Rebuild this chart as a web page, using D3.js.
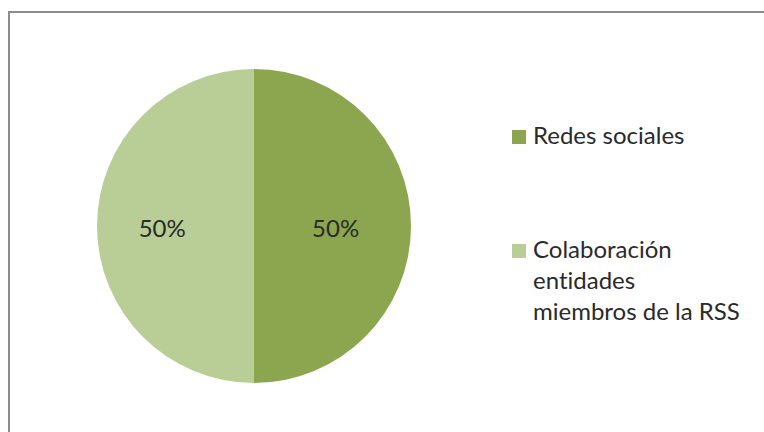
<!DOCTYPE html>
<html>
<head>
<meta charset="utf-8">
<script src="https://cdn.jsdelivr.net/npm/d3@7"></script>
<style>
  html, body { margin: 0; padding: 0; background: #fff; }
  svg { display: block; }
  text { font-family: Lato, "Open Sans", sans-serif; fill: #2a2a2a; font-variant-ligatures: none; }
</style>
</head>
<body>
<svg id="chart" width="764" height="432"></svg>
<script>
const categories = ["Redes sociales", "Colaboración entidades miembros de la RSS"];
const legendLines = [["Redes sociales"], ["Colaboración", "entidades", "miembros de la RSS"]];
const values = [50, 50];
const percentLabels = ["50%", "50%"];
const colors = ["#8ba64e", "#b9cd96"];

const svg = d3.select("#chart");
const W = 764, H = 432;

// frame
svg.append("rect")
  .attr("x", 9).attr("y", 12)
  .attr("width", W + 20).attr("height", H + 20)
  .attr("fill", "#fff")
  .attr("stroke", "#8c8c8c")
  .attr("stroke-width", 2);

const cx = 254, cy = 226, r = 157;
const pie = d3.pie().sort(null).value(d => d.value);
const arcs = pie(categories.map((c, i) => ({ name: c, value: values[i], label: percentLabels[i], color: colors[i] })));
const arc = d3.arc().innerRadius(0).outerRadius(r);
const labelRadius = [r * 0.52, r * 0.585];

const g = svg.append("g").attr("transform", `translate(${cx},${cy})`);
g.selectAll("path.slice").data(arcs).enter().append("path")
  .attr("class", "slice")
  .attr("d", arc)
  .attr("fill", d => d.data.color);

g.selectAll("text.pct").data(arcs).enter().append("text")
  .attr("class", "pct")
  .attr("x", (d, i) => d3.arc().innerRadius(labelRadius[i]).outerRadius(labelRadius[i]).centroid(d)[0])
  .attr("y", 11)
  .attr("text-anchor", "middle")
  .attr("font-size", 24)
  .text(d => d.data.label);

// legend
const legendY = [144, 258];
const lg = svg.append("g");
legendLines.forEach((lines, i) => {
  lg.append("rect")
    .attr("x", 512).attr("y", legendY[i] - 14)
    .attr("width", 14).attr("height", 14)
    .attr("fill", colors[i]);
  const t = lg.append("text")
    .attr("x", 533).attr("y", legendY[i])
    .attr("font-size", 24);
  lines.forEach((ln, j) => {
    t.append("tspan").attr("x", 533).attr("y", legendY[i] + j * 31).text(ln);
  });
});
</script>
</body>
</html>
